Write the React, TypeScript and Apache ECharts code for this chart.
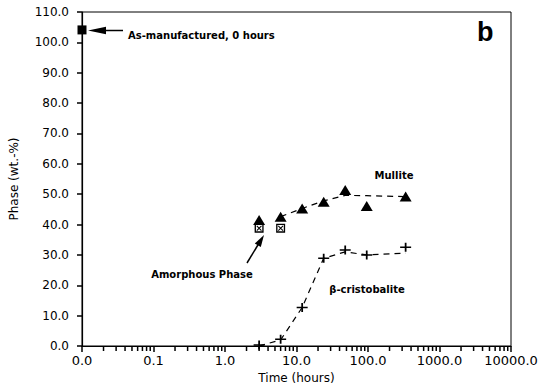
import React, { useEffect, useRef } from "react";
import * as echarts from "echarts";

// Time in hours (log axis)
const times = [3, 6, 12, 24, 48, 96, 336];
const mulliteValues = [41.5, 42.6, 45.3, 47.5, 51.4, 46.1, 49.2];
const mulliteFitTimes = [6, 12, 24, 48, 96, 336];
const mulliteFitValues = [42.6, 45.3, 47.8, 49.6, 49.5, 49.2];
const amorphousTimes = [3, 6];
const amorphousValues = [38.8, 38.8];
const cristobaliteValues = [0.3, 2.2, 12.7, 28.9, 31.6, 30.0, 32.5];
const cristobaliteFitValues = [0, 2.0, 12.7, 28.9, 31.0, 30.0, 30.6];
const asManufacturedTime = [0.01];
const asManufacturedValue = [104.1];
const minorTickTimes = [
  0.02, 0.03, 0.04, 0.05, 0.06, 0.07, 0.08, 0.09,
  0.2, 0.3, 0.4, 0.5, 0.6, 0.7, 0.8, 0.9,
  2, 3, 4, 5, 6, 7, 8, 9,
  20, 30, 40, 50, 60, 70, 80, 90,
  200, 300, 400, 500, 600, 700, 800, 900,
  2000, 3000, 4000, 5000, 6000, 7000, 8000, 9000,
];
const yTicks = { min: 0, max: 110, interval: 10 };
const xRange = { min: 0.01, max: 10000 };

const FONT = "DejaVu Sans";

export default function App() {
  const ref = useRef<HTMLDivElement>(null);
  useEffect(() => {
    if (!ref.current) return;
    const chart = echarts.init(ref.current, undefined, { renderer: "svg" });

    const crossBox =
      "path://M0,0H10V10H0Z M1.5,1.5V8.5H8.5V1.5Z M2,2.8L2.8,2L8,7.2L7.2,8Z M7.2,2L8,2.8L2.8,8L2,7.2Z";
    const plus = "path://M4.2,0H5.8V4.2H10V5.8H5.8V10H4.2V5.8H0V4.2H4.2Z";

    const annotations: any[] = [
      {
        type: "text",
        left: 477,
        top: 18,
        style: { text: "b", font: "bold 27px 'Liberation Sans'", fill: "#000" },
      },
      {
        type: "text",
        x: 128,
        y: 35,
        style: {
          text: "As-manufactured, 0 hours",
          font: "bold 10px 'DejaVu Sans'",
          fill: "#000",
          verticalAlign: "middle",
        },
      },
      {
        type: "line",
        shape: { x1: 104, y1: 30.5, x2: 123, y2: 30.5 },
        style: { stroke: "#000", lineWidth: 1.5 },
      },
      {
        type: "polygon",
        shape: { points: [[88, 30.5], [106, 26.8], [106, 34.2]] },
        style: { fill: "#000" },
      },
      {
        type: "text",
        x: 394,
        y: 175,
        style: {
          text: "Mullite",
          font: "bold 10px 'DejaVu Sans'",
          fill: "#000",
          align: "center",
          verticalAlign: "middle",
        },
      },
      {
        type: "text",
        x: 367,
        y: 289,
        style: {
          text: "β-cristobalite",
          font: "bold 10px 'DejaVu Sans'",
          fill: "#000",
          align: "center",
          verticalAlign: "middle",
        },
      },
      {
        type: "text",
        x: 202,
        y: 274,
        style: {
          text: "Amorphous Phase",
          font: "bold 10px 'DejaVu Sans'",
          fill: "#000",
          align: "center",
          verticalAlign: "middle",
        },
      },
      {
        type: "line",
        shape: { x1: 247, y1: 263, x2: 258.5, y2: 244 },
        style: { stroke: "#000", lineWidth: 1.5 },
      },
      {
        type: "polygon",
        shape: { points: [[264, 235], [260.8, 247], [254.8, 243.4]] },
        style: { fill: "#000" },
      },
    ];

    chart.setOption({
      animation: false,
      grid: {
        left: 82,
        right: 31,
        top: 12,
        bottom: 43,
        show: true,
        borderColor: "#000",
        borderWidth: 1,
        backgroundColor: "transparent",
      },
      xAxis: {
        type: "log",
        logBase: 10,
        min: xRange.min,
        max: xRange.max,
        name: "Time (hours)",
        nameLocation: "middle",
        nameGap: 26,
        nameTextStyle: { fontFamily: FONT, fontSize: 12, color: "#000" },
        axisLine: { lineStyle: { color: "#000", width: 1.2 } },
        axisTick: { inside: false, length: 6, lineStyle: { color: "#000", width: 1.5 } },
        axisLabel: {
          fontFamily: FONT,
          fontSize: 13,
          color: "#000",
          margin: 8,
          formatter: (v: number) => v.toFixed(1),
        },
        splitLine: { show: false },
      },
      yAxis: {
        type: "value",
        min: yTicks.min,
        max: yTicks.max,
        interval: yTicks.interval,
        name: "Phase (wt.-%)",
        nameLocation: "middle",
        nameGap: 62,
        nameTextStyle: { fontFamily: FONT, fontSize: 12, color: "#000" },
        axisLine: { show: true, lineStyle: { color: "#000", width: 1.2 } },
        axisTick: { show: true, inside: false, length: 5, lineStyle: { color: "#000", width: 1.5 } },
        axisLabel: {
          fontFamily: FONT,
          fontSize: 12,
          color: "#000",
          margin: 13,
          formatter: (v: number) => v.toFixed(1),
        },
        splitLine: { show: false },
      },
      series: [
        {
          name: "Mullite fit",
          type: "line",
          data: mulliteFitTimes.map((t, i) => [t, mulliteFitValues[i]]),
          showSymbol: false,
          symbol: "none",
          lineStyle: { color: "#000", width: 1.2, type: [6, 5] },
        },
        {
          name: "Cristobalite fit",
          type: "line",
          data: times.map((t, i) => [t, cristobaliteFitValues[i]]),
          showSymbol: false,
          symbol: "none",
          lineStyle: { color: "#000", width: 1.2, type: [6, 5] },
        },
        {
          name: "Mullite",
          type: "scatter",
          data: times.map((t, i) => [t, mulliteValues[i]]),
          symbol: "triangle",
          symbolSize: [12, 10],
          itemStyle: { color: "#000", opacity: 1 },
        },
        {
          name: "Amorphous Phase",
          type: "scatter",
          data: amorphousTimes.map((t, i) => [t, amorphousValues[i]]),
          symbol: crossBox,
          symbolSize: 9,
          itemStyle: { color: "#000", opacity: 1 },
        },
        {
          name: "Cristobalite",
          type: "scatter",
          data: times.map((t, i) => [t, cristobaliteValues[i]]),
          symbol: plus,
          symbolSize: [11, 9],
          itemStyle: { color: "#000", opacity: 1 },
        },
        {
          name: "As-manufactured",
          type: "scatter",
          clip: false,
          data: asManufacturedTime.map((t, i) => [t, asManufacturedValue[i]]),
          symbol: "rect",
          symbolSize: 9,
          itemStyle: { color: "#000", opacity: 1 },
        },
      ],
      graphic: annotations,
    });

    // minor ticks of the log axis, placed through the axis scale
    const y0 = chart.convertToPixel({ yAxisIndex: 0 }, yTicks.min) as number;
    const tickEls = minorTickTimes.map((t) => {
      const x = chart.convertToPixel({ xAxisIndex: 0 }, t) as number;
      return {
        type: "line",
        silent: true,
        z: 10,
        shape: { x1: x, y1: y0, x2: x, y2: y0 + 5 },
        style: { stroke: "#000", lineWidth: 1.5 },
      };
    });
    chart.setOption({ graphic: [...annotations, ...tickEls] });

    return () => chart.dispose();
  }, []);
  return (
    <div
      ref={ref}
      style={{ position: "fixed", left: 0, top: 0, width: 542, height: 389, background: "#fff" }}
    />
  );
}
